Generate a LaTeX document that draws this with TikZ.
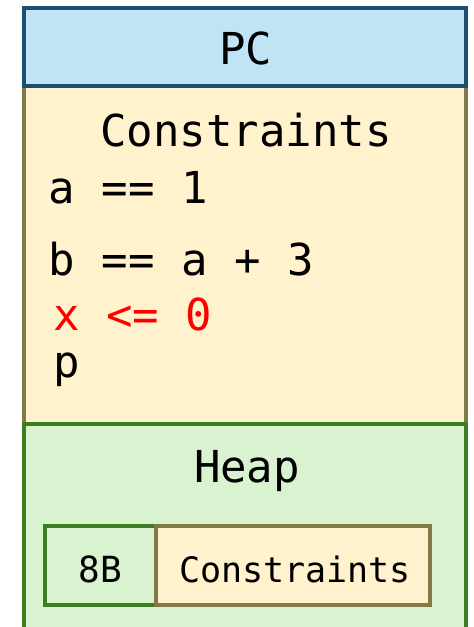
\documentclass[tikz,border=0pt]{standalone}
\usepackage{fontspec}
\setmonofont{DejaVu Sans Mono}
\definecolor{pcfill}{HTML}{C0E4F5}
\definecolor{pcdraw}{HTML}{1D4E6B}
\definecolor{cfill}{HTML}{FFF2CC}
\definecolor{cdraw}{HTML}{7F7A46}
\definecolor{hfill}{HTML}{D9F2D0}
\definecolor{hdraw}{HTML}{3B7D23}
\definecolor{redtxt}{HTML}{FF0000}
\begin{document}
\begin{tikzpicture}[x=1pt,y=-1pt,
  box/.style={draw, line width=4pt, inner sep=0pt, outer sep=0pt},
  big/.style={font=\ttfamily\fontsize{44}{44}\selectfont, inner sep=0pt, anchor=base},
  bigl/.style={big, anchor=base west},
  small/.style={font=\ttfamily\fontsize{35}{35}\selectfont, inner sep=0pt, anchor=base}]
\useasboundingbox (0,0) rectangle (474,627);
\clip (0,0) rectangle (474,627);
% boxes
\node[box, fill=cfill, draw=cdraw, minimum width=442pt, minimum height=338pt] (cons) at (245,255) {};
\node[box, fill=pcfill, draw=pcdraw, minimum width=442pt, minimum height=78pt] (pc) at (245,47) {};
\node[box, fill=hfill, draw=hdraw, minimum width=442pt, minimum height=236pt] (heap) at (245,542) {};
\node[box, fill=hfill, draw=hdraw, minimum width=111pt, minimum height=79pt] (eight) at (100.5,565.5) {};
\node[box, fill=cfill, draw=cdraw, minimum width=274pt, minimum height=79pt] (icons) at (293,565.5) {};
% texts
\node[big] (tpc) at (246,64) {PC};
\node[big] (tcons) at (246,146) {Constraints};
\node[bigl] (l1) at (48.5,203) {a == 1};
\node[bigl] (l2) at (48.5,275) {b == a + 3};
\node[bigl, text=redtxt] (l3) at (53,330) {x <= 0};
\node[bigl] (l4) at (53,377) {p};
\node[big] (theap) at (247,482) {Heap};
\node[small, font=\ttfamily\fontsize{36}{36}\selectfont] (t8) at (100.5,582) {8B};
\node[small] (tic) at (295,582) {Constraints};
\end{tikzpicture}
\end{document}
